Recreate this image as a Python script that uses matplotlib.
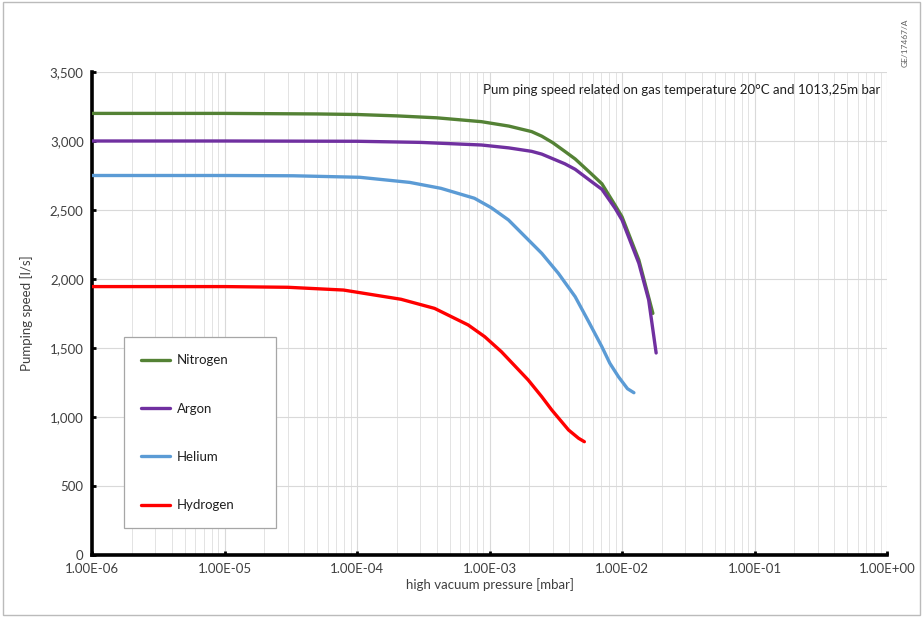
import matplotlib.pyplot as plt
import matplotlib.patches as mpatches
from matplotlib.ticker import FixedLocator, FuncFormatter, LogLocator, NullFormatter

# pressure [mbar] / pumping speed [l/s]
p_nitrogen = [1e-6, 1e-5, 5e-5, 1e-4, 2e-4, 4e-4, 8.7e-4, 1.4e-3, 2.08e-3, 2.48e-3, 3.0e-3,
              3.7e-3, 4.43e-3, 5.9e-3, 7.05e-3, 8.85e-3, 1.0e-2, 1.34e-2, 1.71e-2]
s_nitrogen = [3200, 3200, 3196, 3192, 3182, 3168, 3140, 3108, 3068, 3035, 2988,
              2925, 2870, 2760, 2690, 2536, 2451, 2138, 1751]

p_argon = [1e-6, 1e-5, 1e-4, 3e-4, 8.7e-4, 1.4e-3, 2.08e-3, 2.48e-3, 3.7e-3, 4.43e-3,
           5.9e-3, 7.05e-3, 8.85e-3, 1.0e-2, 1.34e-2, 1.59e-2, 1.81e-2]
s_argon = [3000, 3000, 2998, 2990, 2971, 2950, 2925, 2905, 2835, 2795,
           2705, 2650, 2514, 2428, 2114, 1848, 1464]

p_helium = [1e-6, 1e-5, 3.3e-5, 1.05e-4, 2.5e-4, 4.3e-4, 7.7e-4, 1.03e-3, 1.39e-3,
            2.48e-3, 3.31e-3, 4.43e-3, 5.6e-3, 7.05e-3, 8.1e-3, 9.4e-3, 1.1e-2, 1.23e-2]
s_helium = [2750, 2750, 2748, 2737, 2700, 2657, 2585, 2517, 2428,
            2186, 2041, 1872, 1691, 1509, 1389, 1292, 1205, 1176]

p_hydrogen = [1e-6, 1e-5, 3e-5, 7.9e-5, 2.15e-4, 3.85e-4, 6.9e-4, 9.2e-4, 1.23e-3,
              1.96e-3, 2.48e-3, 2.95e-3, 3.95e-3, 4.7e-3, 5.2e-3]
s_hydrogen = [1945, 1945, 1940, 1920, 1853, 1787, 1667, 1582, 1473,
              1268, 1147, 1051, 906, 846, 821]

labels = ["Nitrogen", "Argon", "Helium", "Hydrogen"]
colors = ["#548235", "#7030A0", "#5B9BD5", "#FF0000"]

x_ticks = [1e-6, 1e-5, 1e-4, 1e-3, 1e-2, 1e-1, 1e0]
x_tick_labels = ["1.00E-06", "1.00E-05", "1.00E-04", "1.00E-03",
                 "1.00E-02", "1.00E-01", "1.00E+00"]
y_ticks = [0, 500, 1000, 1500, 2000, 2500, 3000, 3500]

plt.rcParams.update({"font.family": ["Lato", "DejaVu Sans"], "font.size": 9.5})

fig = plt.figure(figsize=(9.23, 6.17), dpi=100)
ax = fig.add_axes([92 / 923, 1 - 555 / 617, 795 / 923, 483 / 617])

# light frame around the whole picture
fig.patches.append(mpatches.Rectangle((0.003, 0.003), 0.994, 0.994, transform=fig.transFigure,
                                      fill=False, edgecolor="#bbbbbb", linewidth=1.0))

series = [(p_nitrogen, s_nitrogen), (p_argon, s_argon),
          (p_helium, s_helium), (p_hydrogen, s_hydrogen)]
for (px, sy), lab, col in zip(series, labels, colors):
    ax.plot(px, sy, color=col, linewidth=2.4, label=lab, solid_capstyle="round",
            solid_joinstyle="round", zorder=3)

ax.set_xscale("log")
ax.set_xlim(1e-6, 1e0)
ax.set_ylim(0, 3500)
ax.xaxis.set_major_locator(FixedLocator(x_ticks))
ax.set_xticklabels(x_tick_labels)
ax.xaxis.set_minor_locator(LogLocator(base=10, subs=range(2, 10), numticks=20))
ax.xaxis.set_minor_formatter(NullFormatter())
ax.yaxis.set_major_locator(FixedLocator(y_ticks))
ax.yaxis.set_major_formatter(FuncFormatter(lambda v, _: f"{int(v):,}"))

ax.grid(True, which="major", color="#d9d9d9", linewidth=0.8)
ax.grid(True, which="minor", axis="x", color="#e3e3e3", linewidth=0.7)
ax.set_axisbelow(True)

for side in ("top", "right"):
    ax.spines[side].set_visible(False)
for side in ("left", "bottom"):
    ax.spines[side].set_linewidth(2.6)
    ax.spines[side].set_color("black")
ax.tick_params(which="major", length=3, width=2, direction="in", colors="black",
               labelcolor="#404040", labelsize=9.5, pad=6)
ax.tick_params(which="minor", length=0)

ax.set_xlabel("high vacuum pressure [mbar]", fontsize=9.5, color="#404040", labelpad=2)
ax.set_ylabel("Pumping speed [l/s]", fontsize=9.5, color="#404040", labelpad=12)

ax.text(0.992, 0.975, "Pum ping speed related on gas temperature 20°C and 1013,25m bar",
        transform=ax.transAxes, ha="right", va="top", fontsize=9.5, color="#202020")
fig.text(905 / 923, 1 - 43 / 617, "GE/17467/A", rotation=90, ha="center", va="center",
         fontsize=6, color="#606060")

# legend box stretched to the reference width
leg = ax.legend(loc="lower left", bbox_to_anchor=(0.040, 0.055, 0.191, 0.39), mode="expand",
                frameon=True, fancybox=False, edgecolor="#a6a6a6", framealpha=1,
                handlelength=2.2, handletextpad=0.55, labelspacing=2.75, borderpad=1.3,
                borderaxespad=0, fontsize=9.5)
leg.get_frame().set_linewidth(0.9)
for t in leg.get_texts():
    t.set_color("#202020")

fig.savefig("out.png", dpi=100)
